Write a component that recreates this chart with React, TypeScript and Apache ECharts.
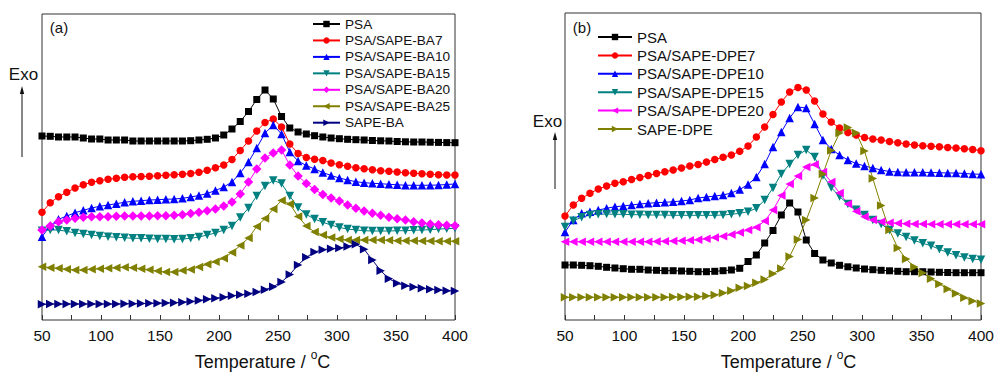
import React, { useEffect, useRef } from 'react';
import * as echarts from 'echarts';

// Temperature (°C) sampling points shared by every curve
const temps = [50, 57, 64, 71, 78, 85, 92, 99, 106, 113, 120, 127, 134, 141, 148, 155, 162, 169, 176, 183, 190, 197, 204, 211, 218, 225, 232, 239, 246, 253, 260, 267, 274, 281, 288, 295, 302, 309, 316, 323, 330, 337, 344, 351, 358, 365, 372, 379, 386, 393, 400];
const xTicks = [50, 100, 150, 200, 250, 300, 350, 400];

// Panel (a) — heat flow, arbitrary units (stacked offsets as in the figure)
const psaA = [184, 183.7, 183, 183, 183, 182, 181, 181, 180, 180, 180, 179, 179, 179, 179, 179, 179, 179, 179.3, 180, 180.7, 182, 185, 191, 198.5, 208.5, 220.5, 230, 221, 203.5, 192, 188, 186, 184.3, 183, 182, 181.3, 180.7, 180.3, 180, 179.5, 179.2, 179, 178.5, 178.2, 178, 178, 177.8, 177.6, 177.4, 177.3];
const ba7 = [107.7, 117.3, 123.3, 127.7, 132, 135.3, 137.7, 139.3, 140.7, 141.7, 142.7, 143.3, 143.5, 143.7, 144.3, 144.8, 145.3, 145.8, 146.5, 147.8, 149.7, 152.2, 155, 160.5, 169.5, 179, 189, 197.5, 201, 193, 176, 166.5, 162.5, 160.8, 159.5, 157, 155.3, 153.7, 152.3, 151.3, 150.3, 149.3, 148.7, 148, 147.3, 146.7, 146.3, 145.7, 145.3, 145, 145];
const ba10 = [83.3, 94.3, 100.7, 104, 107.3, 109.7, 112, 113.7, 115, 116.3, 117.7, 118.7, 119.3, 120, 120.3, 120.7, 121, 121.7, 123, 124.5, 126.5, 129.5, 133, 138, 147, 158, 172, 187, 195, 186, 168, 159, 154.5, 151, 147.5, 144.5, 142, 140, 138.3, 137.3, 136.7, 136.3, 135.7, 135.2, 134.8, 134.7, 134.7, 134.8, 135, 135.5, 136];
const ba15 = [89.3, 90, 90, 88.7, 87, 86, 85, 84, 83.3, 82.7, 82.3, 81.7, 81.7, 81.3, 81, 81, 80.7, 81, 81.7, 83, 85, 87, 90, 94, 102.5, 112, 124, 134, 139.5, 136.5, 124, 112.5, 105.5, 101, 97.7, 95, 92.5, 91, 90, 89.3, 89, 89, 89, 89.3, 89.3, 89.7, 90, 90.3, 91, 91.3, 91.7];
const ba20 = [90, 94, 98.3, 100, 101.7, 102.7, 103.3, 103.3, 103.3, 103.7, 104, 104, 104, 104, 104.3, 104.3, 104.7, 105.3, 106.5, 107.7, 109.3, 111, 114, 118, 126, 138, 151, 162, 167, 170, 155, 144, 136.5, 130.5, 125.5, 122, 119, 115, 111.7, 109, 106.7, 104.7, 102.7, 101.3, 100, 98.3, 97, 96, 95.3, 94.7, 94.3];
const ba25 = [53.3, 52.3, 51.7, 50.7, 50, 50, 50.7, 51.3, 51.7, 52.3, 52.7, 52.3, 51.3, 50.3, 49, 48, 48, 49.5, 50.5, 53, 55.7, 58.3, 61.8, 67.5, 74.5, 82, 93.5, 101.5, 111, 119.5, 116, 103.5, 94, 88, 85, 82.5, 81, 80, 80, 80, 80, 80, 79.7, 79.3, 79.3, 79.3, 79, 79, 78.7, 78.7, 78.7];
const sapeBa = [15.7, 16, 16, 16, 16, 16, 16, 16, 16, 16, 16.2, 16.3, 16.5, 16.7, 16.8, 17, 17.3, 17.8, 18.4, 19.4, 20.7, 21.8, 22.7, 24.2, 25.2, 26.2, 28, 30.3, 33.3, 38, 45.5, 55, 62.7, 68, 70.3, 71.3, 72, 73.5, 75.7, 70.7, 60, 49.3, 41.3, 36.7, 34.3, 33, 31.7, 30.7, 30, 29.3, 29];

// Panel (b)
const psaB = [55, 55, 54.7, 54.3, 53.7, 52.7, 52, 51.3, 50.7, 50.7, 50, 49.7, 49.3, 49.3, 49, 48.7, 48.3, 48.3, 48.7, 49.3, 50, 51.7, 58.5, 65, 77, 89.5, 105, 117, 108, 80, 66.5, 60, 57, 54.7, 53.2, 52, 51, 50.3, 49.7, 49.2, 48.7, 48.3, 48.3, 48.3, 48, 47.7, 47.5, 47.3, 47.3, 47.3, 47.3];
const dpe7 = [104, 115, 121.7, 126.7, 131, 134, 136.7, 138.3, 140.5, 142.5, 144.5, 146.5, 148.3, 150, 152, 154, 155.5, 158, 160.5, 162.7, 165, 168.7, 174, 183, 193, 205.5, 218, 228, 232.5, 230, 219, 206, 198, 192, 187.5, 185, 182.5, 181, 180, 178.5, 177.3, 176, 175, 174.3, 173.8, 173.3, 172.5, 172, 171.3, 170.5, 169.3];
const dpe10 = [88, 100, 106.7, 108.3, 110, 111.7, 113.3, 114, 115, 116, 116.7, 117.3, 117.7, 118.3, 119, 120, 122, 123, 124, 125, 127, 130.5, 135.5, 143, 156, 173, 188, 202, 213, 212, 196, 180, 171, 165, 160, 156.5, 154, 152, 150, 148.5, 148, 147.8, 147.7, 147.7, 147.5, 147.3, 147, 147, 146.5, 146, 145.7];
const dpe15 = [93, 99.3, 102.7, 105, 105.7, 106, 105.7, 105.7, 105.3, 105.3, 105, 105, 105, 104.7, 104.7, 104.7, 104.7, 104.7, 104.7, 105, 105.7, 106.7, 108.3, 111.7, 120, 132, 146, 156, 165, 170, 163, 144.5, 132.5, 123.5, 116, 110.3, 105, 100, 96, 90, 86.5, 83, 79.5, 76.7, 74.3, 70.7, 67.5, 64.7, 62.5, 61, 60.3];
const dpe20 = [78.3, 78.3, 78.3, 78.3, 78.3, 78.3, 78.3, 78.3, 78.3, 78.3, 78.3, 78.5, 78.7, 79, 79.3, 79.7, 80.3, 81.3, 82.5, 83.7, 85.5, 87.5, 90, 92.7, 99, 110, 124.5, 136, 144, 153, 155.5, 148, 138, 127, 116, 108.7, 103.3, 100, 98.3, 97.3, 96.7, 96.3, 96, 96, 95.7, 95.7, 95.7, 95.7, 95.7, 95.7, 95.7];
const sapeDpe = [22.7, 22.7, 22.7, 22.7, 22.7, 22.7, 22.7, 22.7, 22.7, 22.7, 22.7, 22.7, 22.7, 23, 23, 23.3, 23.3, 24, 25, 27, 29.3, 32.3, 34, 37.3, 40.5, 46.3, 51.5, 63.5, 80.5, 100, 122, 146, 169.5, 187, 192.5, 187, 169, 141.5, 114.5, 90, 72, 61, 53, 47, 41.3, 36, 31, 26.5, 22.3, 19, 16.5];

const namesA = ['PSA', 'PSA/SAPE-BA7', 'PSA/SAPE-BA10', 'PSA/SAPE-BA15', 'PSA/SAPE-BA20', 'PSA/SAPE-BA25', 'SAPE-BA'];
const namesB = ['PSA', 'PSA/SAPE-DPE7', 'PSA/SAPE-DPE10', 'PSA/SAPE-DPE15', 'PSA/SAPE-DPE20', 'SAPE-DPE'];

const FONT = '"Liberation Sans", Arial, Helvetica, sans-serif';

type Sty = { color: string; symbol: string; size: number; rotate?: number };
const SQ: Sty = { color: '#000000', symbol: 'rect', size: 7 };
const RED: Sty = { color: '#ff0000', symbol: 'circle', size: 7.5 };
const BLUE: Sty = { color: '#0000ff', symbol: 'triangle', size: 8.5 };
const TEAL: Sty = { color: '#008080', symbol: 'triangle', size: 8.5, rotate: 180 };
const MAG: Sty = { color: '#ff00ff', symbol: 'diamond', size: 9.5 };
const OLIVE_L: Sty = { color: '#808000', symbol: 'triangle', size: 8.5, rotate: 90 };
const NAVY_R: Sty = { color: '#000080', symbol: 'triangle', size: 8.5, rotate: -90 };
const MAG_L: Sty = { color: '#ff00ff', symbol: 'triangle', size: 8.5, rotate: 90 };
const OLIVE_R: Sty = { color: '#808000', symbol: 'triangle', size: 8.5, rotate: -90 };

function mkSeries(name: string, values: number[], s: Sty, idx: number) {
  return {
    type: 'line',
    name,
    xAxisIndex: idx,
    yAxisIndex: idx,
    data: temps.map((t, i) => [t, values[i]]),
    symbol: s.symbol,
    symbolSize: s.size,
    symbolRotate: s.rotate || 0,
    itemStyle: { color: s.color },
    lineStyle: { color: s.color, width: 1 },
    emphasis: { disabled: true },
  };
}

function xAxisFor(idx: number) {
  return {
    type: 'value',
    gridIndex: idx,
    min: 50,
    max: 400,
    interval: 25,
    axisLine: { show: false },
    axisTick: { show: true, inside: true, length: 5, lineStyle: { color: '#333', width: 1 } },
    axisLabel: {
      margin: 7,
      fontSize: 15.5,
      color: '#111',
      fontFamily: FONT,
      formatter: (v: number) => (xTicks.includes(v) ? String(v) : ''),
    },
    splitLine: { show: false },
  };
}

function txt(x: number, y: number, text: string, fontSize: number, extra?: any) {
  return {
    type: 'text',
    x,
    y,
    silent: true,
    style: Object.assign(
      {
        text,
        fontSize,
        fontFamily: FONT,
        fill: '#111',
        textAlign: 'center',
        textVerticalAlign: 'middle',
        align: 'center',
        verticalAlign: 'middle',
      },
      extra || {}
    ),
  };
}

const titleExtra = {
  lineHeight: 26,
  rich: {
    sup: { fontSize: 12, lineHeight: 12, fontFamily: FONT, fill: '#111', verticalAlign: 'top' },
  },
};

export default function App() {
  const ref = useRef<HTMLDivElement>(null);
  useEffect(() => {
    if (!ref.current) return;
    const chart = echarts.init(ref.current, undefined, { renderer: 'svg' });
    const seriesA = [
      mkSeries(namesA[0], psaA, SQ, 0),
      mkSeries(namesA[1], ba7, RED, 0),
      mkSeries(namesA[2], ba10, BLUE, 0),
      mkSeries(namesA[3], ba15, TEAL, 0),
      mkSeries(namesA[4], ba20, MAG, 0),
      mkSeries(namesA[5], ba25, OLIVE_L, 0),
      mkSeries(namesA[6], sapeBa, NAVY_R, 0),
    ];
    const seriesB = [
      mkSeries(namesB[0], psaB, SQ, 1),
      mkSeries(namesB[1], dpe7, RED, 1),
      mkSeries(namesB[2], dpe10, BLUE, 1),
      mkSeries(namesB[3], dpe15, TEAL, 1),
      mkSeries(namesB[4], dpe20, MAG_L, 1),
      mkSeries(namesB[5], sapeDpe, OLIVE_R, 1),
    ];
    chart.setOption({
      animation: false,
      backgroundColor: '#ffffff',
      grid: [
        { left: 42, top: 14, width: 413, height: 306, show: true, borderColor: '#333', borderWidth: 1, backgroundColor: 'transparent' },
        { left: 565, top: 13, width: 416, height: 307, show: true, borderColor: '#333', borderWidth: 1, backgroundColor: 'transparent' },
      ],
      xAxis: [xAxisFor(0), xAxisFor(1)],
      yAxis: [
        { type: 'value', gridIndex: 0, min: 0, max: 306, show: false },
        { type: 'value', gridIndex: 1, min: 0, max: 307, show: false },
      ],
      legend: [
        {
          data: namesA,
          orient: 'vertical',
          left: 312,
          top: 16,
          padding: 0,
          itemGap: 0.45,
          itemWidth: 27,
          itemHeight: 8,
          selectedMode: false,
          textStyle: { fontSize: 13.6, fontFamily: FONT, color: '#111', lineHeight: 16 },
        },
        {
          data: namesB,
          orient: 'vertical',
          left: 597,
          top: 28,
          padding: 0,
          itemGap: 0.4,
          itemWidth: 34,
          itemHeight: 8,
          selectedMode: false,
          textStyle: { fontSize: 15, fontFamily: FONT, color: '#111', lineHeight: 18 },
        },
      ],
      graphic: [
        txt(59, 27, '(a)', 15),
        txt(582, 27, '(b)', 15),
        txt(23.5, 74, 'Exo', 17),
        txt(547.5, 121, 'Exo', 17),
        { type: 'line', silent: true, shape: { x1: 22, y1: 157, x2: 22, y2: 92 }, style: { stroke: '#111', lineWidth: 1 } },
        { type: 'polygon', silent: true, shape: { points: [[22, 86], [19.8, 94], [24.2, 94]] }, style: { fill: '#111' } },
        { type: 'line', silent: true, shape: { x1: 555, y1: 189, x2: 555, y2: 138 }, style: { stroke: '#111', lineWidth: 1 } },
        { type: 'polygon', silent: true, shape: { points: [[555, 132], [552.8, 140], [557.2, 140]] }, style: { fill: '#111' } },
        txt(262.5, 362, 'Temperature / {sup|o}C', 18, titleExtra),
        txt(788.5, 362, 'Temperature / {sup|o}C', 18, titleExtra),
      ],
      series: [...seriesA, ...seriesB],
    });
    return () => chart.dispose();
  }, []);
  return <div ref={ref} style={{ width: 1000, height: 379, position: 'absolute', left: 0, top: 0 }} />;
}
